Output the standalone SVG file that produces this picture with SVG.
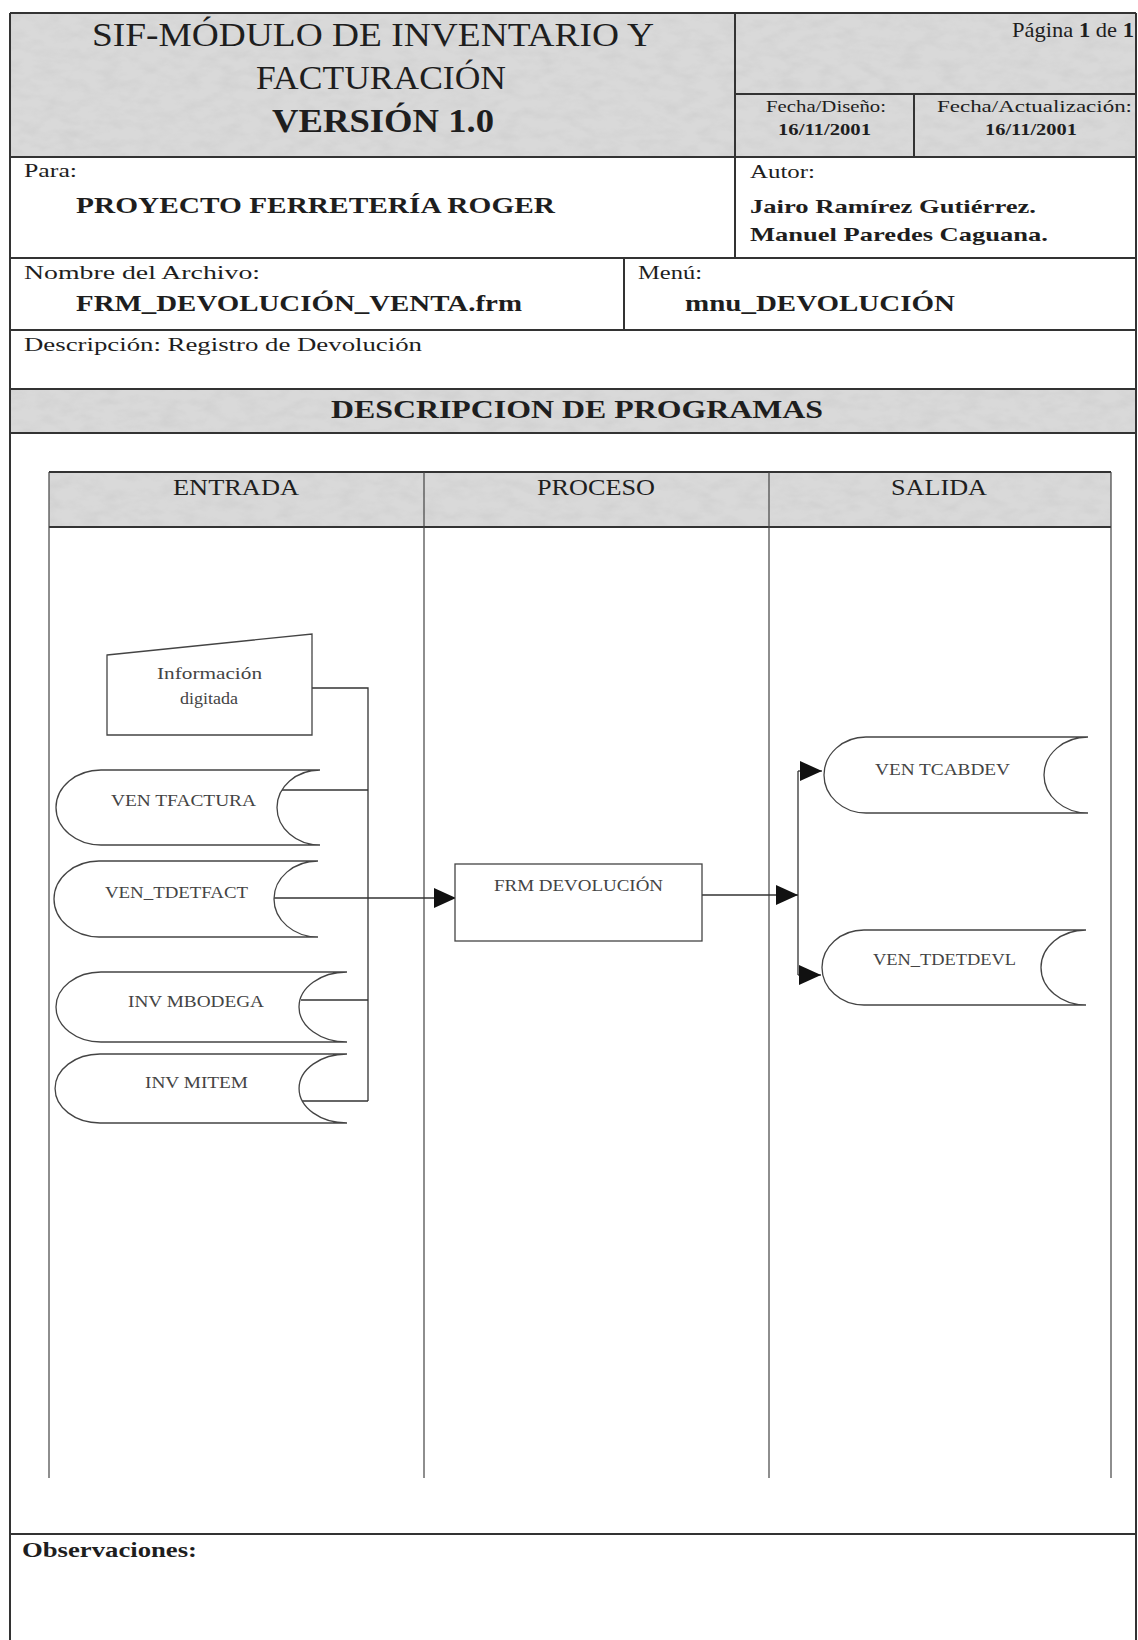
<svg xmlns="http://www.w3.org/2000/svg" width="1138" height="1640" viewBox="0 0 1138 1640">
<style>
.t{font-family:"Liberation Serif","Times New Roman",serif;fill:#1e1e1e}
.b{font-weight:bold}
.lbl{font-family:"Liberation Serif","Times New Roman",serif;fill:#444;font-size:16px}
.frame{stroke:#333;stroke-width:2;fill:none}
.thin{stroke:#444;stroke-width:1.2;fill:none}
.gray{fill:#d9d9d9}
.mot{fill:#000;filter:url(#mottle)}
.shape{fill:#fff;stroke:#444;stroke-width:1.3}
.conn{stroke:#333;stroke-width:1.3;fill:none}
</style>
<defs>
<marker id="arr" markerUnits="userSpaceOnUse" markerWidth="22" markerHeight="20" refX="22" refY="10" orient="auto">
<path d="M0,0 L22,10 L0,20 Z" fill="#111"/>
</marker>
<filter id="mottle" x="0" y="0" width="100%" height="100%">
<feTurbulence type="fractalNoise" baseFrequency="0.05 0.1" numOctaves="3" seed="7" result="n"/>
<feColorMatrix in="n" type="matrix" values="0 0 0 0 0.6  0 0 0 0 0.6  0 0 0 0 0.6  1.1 0 0 0 -0.42" result="spots"/>
<feComposite in="spots" in2="SourceGraphic" operator="in"/>
</filter>
</defs>
<rect width="1138" height="1640" fill="#fff"/>

<g id="header">
<rect class="gray" x="10" y="13" width="1126" height="144"/>
<rect class="mot" x="10" y="13" width="1126" height="144"/>
<rect class="gray" x="10" y="389" width="1126" height="44"/>
<rect class="mot" x="10" y="389" width="1126" height="44"/>
<path class="frame" d="M10,13 H1136 M10,13 V1640 M1136,13 V1640 M735,13 V258 M735,94 H1136 M914,94 V157 M10,157 H1136 M10,258 H1136 M624,258 V330 M10,330 H1136 M10,389 H1136 M10,433 H1136 M10,1534 H1136"/>
<text class="t" x="92" y="46" font-size="33" textLength="562" lengthAdjust="spacingAndGlyphs">SIF-MÓDULO DE INVENTARIO Y</text>
<text class="t" x="256" y="89" font-size="33" textLength="250" lengthAdjust="spacingAndGlyphs">FACTURACIÓN</text>
<text class="t b" x="272" y="132" font-size="33" textLength="222" lengthAdjust="spacingAndGlyphs">VERSIÓN 1.0</text>
<text class="t" x="1012" y="37" font-size="21" textLength="122" lengthAdjust="spacingAndGlyphs">Página <tspan class="b">1</tspan> de <tspan class="b">1</tspan></text>
<text class="t" x="766" y="112" font-size="16" textLength="120" lengthAdjust="spacingAndGlyphs">Fecha/Diseño:</text>
<text class="t b" x="778" y="135" font-size="16" textLength="93" lengthAdjust="spacingAndGlyphs">16/11/2001</text>
<text class="t" x="937" y="112" font-size="16" textLength="195" lengthAdjust="spacingAndGlyphs">Fecha/Actualización:</text>
<text class="t b" x="985" y="135" font-size="16" textLength="92" lengthAdjust="spacingAndGlyphs">16/11/2001</text>
<text class="t" x="24" y="177" font-size="19" textLength="53" lengthAdjust="spacingAndGlyphs">Para:</text>
<text class="t b" x="76" y="213" font-size="24" textLength="479" lengthAdjust="spacingAndGlyphs">PROYECTO FERRETERÍA ROGER</text>
<text class="t" x="750" y="178" font-size="19" textLength="65" lengthAdjust="spacingAndGlyphs">Autor:</text>
<text class="t b" x="750" y="213" font-size="19" textLength="286" lengthAdjust="spacingAndGlyphs">Jairo Ramírez Gutiérrez.</text>
<text class="t b" x="750" y="241" font-size="19" textLength="298" lengthAdjust="spacingAndGlyphs">Manuel Paredes Caguana.</text>
<text class="t" x="24" y="279" font-size="19" textLength="236" lengthAdjust="spacingAndGlyphs">Nombre del Archivo:</text>
<text class="t b" x="76" y="311" font-size="24" textLength="446" lengthAdjust="spacingAndGlyphs">FRM_DEVOLUCIÓN_VENTA.frm</text>
<text class="t" x="638" y="279" font-size="19" textLength="64" lengthAdjust="spacingAndGlyphs">Menú:</text>
<text class="t b" x="685" y="311" font-size="24" textLength="270" lengthAdjust="spacingAndGlyphs">mnu_DEVOLUCIÓN</text>
<text class="t" x="24" y="351" font-size="19" textLength="398" lengthAdjust="spacingAndGlyphs">Descripción: Registro de Devolución</text>
<text class="t b" x="331" y="418" font-size="25" textLength="492" lengthAdjust="spacingAndGlyphs">DESCRIPCION DE PROGRAMAS</text>
<text class="t b" x="22" y="1557" font-size="21" textLength="175" lengthAdjust="spacingAndGlyphs">Observaciones:</text>
</g>

<g id="swimlanes">
<rect class="gray" x="49" y="472" width="1062" height="55"/>
<rect class="mot" x="49" y="472" width="1062" height="55"/>
<path class="frame" d="M49,472 H1111 M49,527 H1111" stroke-width="1.8"/>
<path class="thin" d="M49,472 V1478 M424,472 V1478 M769,472 V1478 M1111,472 V1478"/>
<text class="t" x="173" y="495" font-size="23" textLength="126" lengthAdjust="spacingAndGlyphs">ENTRADA</text>
<text class="t" x="537" y="495" font-size="23" textLength="118" lengthAdjust="spacingAndGlyphs">PROCESO</text>
<text class="t" x="891" y="495" font-size="23" textLength="96" lengthAdjust="spacingAndGlyphs">SALIDA</text>
</g>

<g id="connectors">
<path class="conn" d="M312,688 H368 V1101"/>
<path class="conn" d="M282,790 H368"/>
<path class="conn" d="M301,1000 H368"/>
<path class="conn" d="M302,1101 H368"/>
<path class="conn" d="M274,898 H456" marker-end="url(#arr)"/>
<path class="conn" d="M702,895 H798" marker-end="url(#arr)"/>
<path class="conn" d="M798,771 V975"/>
<path class="conn" d="M798,771 H822" marker-end="url(#arr)"/>
<path class="conn" d="M798,975 H821" marker-end="url(#arr)"/>
</g>

<g id="informacion_digitada">
<path class="shape" d="M107,655 L312,634 L312,735 L107,735 Z"/>
<text class="lbl" x="157" y="679" textLength="105" lengthAdjust="spacingAndGlyphs">Información</text>
<text class="lbl" x="180" y="704" textLength="58" lengthAdjust="spacingAndGlyphs">digitada</text>
</g>

<g id="ven_tfactura">
<path class="shape" d="M101,770 L320,770 A43,37.5 0 0 0 320,845 L101,845 A45,37.5 0 0 1 101,770 Z"/>
<text class="lbl" x="111" y="806" textLength="145" lengthAdjust="spacingAndGlyphs">VEN  TFACTURA</text>
</g>

<g id="ven_tdetfact">
<path class="shape" d="M99,861 L318,861 A44,38 0 0 0 318,937 L99,937 A45,38 0 0 1 99,861 Z"/>
<text class="lbl" x="105" y="898" textLength="143" lengthAdjust="spacingAndGlyphs">VEN_TDETFACT</text>
</g>

<g id="inv_mbodega">
<path class="shape" d="M101,972 L347,972 A48,35 0 0 0 347,1042 L101,1042 A45,35 0 0 1 101,972 Z"/>
<text class="lbl" x="128" y="1007" textLength="136" lengthAdjust="spacingAndGlyphs">INV  MBODEGA</text>
</g>

<g id="inv_mitem">
<path class="shape" d="M100,1054 L347,1054 A48,34.5 0 0 0 347,1123 L100,1123 A45,34.5 0 0 1 100,1054 Z"/>
<text class="lbl" x="145" y="1088" textLength="103" lengthAdjust="spacingAndGlyphs">INV  MITEM</text>
</g>

<g id="frm_devolucion">
<rect class="shape" x="455" y="864" width="247" height="77"/>
<text class="lbl" x="494" y="891" textLength="169" lengthAdjust="spacingAndGlyphs">FRM  DEVOLUCIÓN</text>
</g>

<g id="ven_tcabdev">
<path class="shape" d="M866,737 L1088,737 A44,38 0 0 0 1088,813 L866,813 A42,38 0 0 1 866,737 Z"/>
<text class="lbl" x="875" y="775" textLength="135" lengthAdjust="spacingAndGlyphs">VEN  TCABDEV</text>
</g>

<g id="ven_tdetdevl">
<path class="shape" d="M864,930 L1086,930 A45,37.5 0 0 0 1086,1005 L864,1005 A42,37.5 0 0 1 864,930 Z"/>
<text class="lbl" x="873" y="965" textLength="143" lengthAdjust="spacingAndGlyphs">VEN_TDETDEVL</text>
</g>
</svg>
